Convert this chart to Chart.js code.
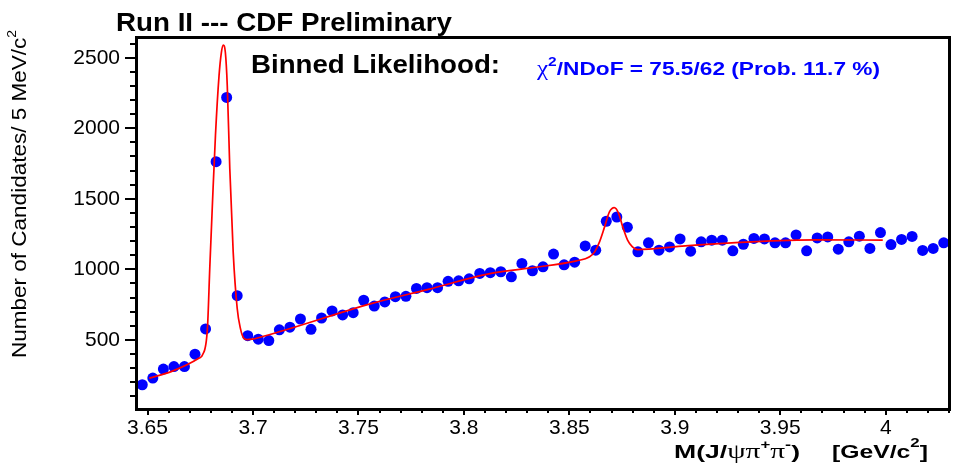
<!DOCTYPE html>
<html>
<head>
<meta charset="utf-8">
<script src="https://cdn.jsdelivr.net/npm/chart.js@4.4.1/dist/chart.umd.min.js"></script>
<style>
  html, body { margin: 0; padding: 0; background: #fff; }
  canvas { display: block; }
</style>
</head>
<body>
<canvas id="chart" width="956" height="470"></canvas>
<script>
// bin centres of the 5 MeV/c^2 bins (GeV/c^2)
const binCenters = [
  3.6475, 3.6525, 3.6575, 3.6625, 3.6675, 3.6725, 3.6775, 3.6825, 3.6875, 3.6925,
  3.6975, 3.7025, 3.7075, 3.7125, 3.7175, 3.7225, 3.7275, 3.7325, 3.7375, 3.7425,
  3.7475, 3.7525, 3.7575, 3.7625, 3.7675, 3.7725, 3.7775, 3.7825, 3.7875, 3.7925,
  3.7975, 3.8025, 3.8075, 3.8125, 3.8175, 3.8225, 3.8275, 3.8325, 3.8375, 3.8425,
  3.8475, 3.8525, 3.8575, 3.8625, 3.8675, 3.8725, 3.8775, 3.8825, 3.8875, 3.8925,
  3.8975, 3.9025, 3.9075, 3.9125, 3.9175, 3.9225, 3.9275, 3.9325, 3.9375, 3.9425,
  3.9475, 3.9525, 3.9575, 3.9625, 3.9675, 3.9725, 3.9775, 3.9825, 3.9875, 3.9925,
  3.9975, 4.0025, 4.0075, 4.0125, 4.0175, 4.0225, 4.0275
];

// candidates per bin
const candidates = [
  182, 229, 293, 311, 311, 399, 578, 1763, 2219, 813,
  530, 505, 495, 571, 590, 648, 575, 655, 705, 677,
  693, 781, 740, 769, 806, 809, 865, 870, 870, 915,
  919, 933, 971, 976, 983, 947, 1042, 990, 1018, 1108,
  1032, 1051, 1166, 1136, 1341, 1371, 1299, 1124, 1188, 1136,
  1159, 1216, 1129, 1195, 1207, 1207, 1131, 1178, 1219, 1216,
  1188, 1188, 1244, 1131, 1223, 1230, 1143, 1195, 1235, 1148,
  1261, 1176, 1212, 1233, 1134, 1148, 1188
];

// fit curve
const fitMass = [
  3.6508, 3.6612, 3.6745, 3.6761, 3.6784, 3.6795, 3.6808, 3.6822, 3.6839, 3.6850,
  3.6859, 3.6869, 3.6878, 3.6890, 3.6906, 3.6925, 3.6940, 3.6956, 3.6972, 3.6997,
  3.7034, 3.7128, 3.7565, 3.7831, 3.8112, 3.8299, 3.8534, 3.8596, 3.8620, 3.8643,
  3.8667, 3.8690, 3.8713, 3.8734, 3.8753, 3.8776, 3.8799, 3.8823, 3.8877, 3.9049,
  3.9362, 3.9674, 3.9986
];
const fitValue = [
  229, 275, 371, 394, 583, 1007, 1477, 1949, 2373, 2537,
  2590, 2537, 2302, 1713, 1124, 724, 583, 512, 502, 505,
  519, 559, 759, 858, 966, 1007, 1060, 1089, 1124, 1195,
  1301, 1407, 1437, 1395, 1301, 1207, 1159, 1140, 1143, 1166,
  1195, 1209, 1207
];

const xRange = [3.645, 4.03];
const yRange = [10, 2640];

const FONT = '"Liberation Sans", Arial, sans-serif';
const SYM = '"Liberation Serif", "DejaVu Serif", serif';

// draw a row of text pieces one after the other
function drawRuns(ctx, x, y, runs) {
  runs.forEach(r => {
    ctx.font = r.font;
    ctx.fillStyle = r.color || '#000';
    ctx.fillText(r.text, x, y + (r.dy || 0));
    x += ctx.measureText(r.text).width;
  });
  return x;
}
function runsWidth(ctx, runs) {
  let w = 0;
  runs.forEach(r => { ctx.font = r.font; w += ctx.measureText(r.text).width; });
  return w;
}
// same, but stretched sideways to the width it has in the original
function drawRunsWide(ctx, x, y, runs, width) {
  const w = runsWidth(ctx, runs);
  ctx.save();
  ctx.translate(x, y);
  ctx.scale(width / w, 1);
  drawRuns(ctx, 0, 0, runs);
  ctx.restore();
}

// frame, tick marks and all the ROOT style texts
const rootStyle = {
  id: 'rootStyle',
  afterDraw(chart) {
    const { ctx, chartArea: a, scales: { x, y } } = chart;
    ctx.save();
    ctx.strokeStyle = '#000';
    ctx.lineWidth = 2;
    ctx.beginPath();
    y.ticks.forEach(t => {
      const py = Math.round(y.getPixelForValue(t.value));
      const len = t.value % 500 === 0 ? 12 : 7;
      ctx.moveTo(a.left - len, py);
      ctx.lineTo(a.left, py);
    });
    x.ticks.forEach(t => {
      const px = Math.round(x.getPixelForValue(t.value));
      const major = Math.abs(t.value * 20 - Math.round(t.value * 20)) < 1e-6;
      ctx.moveTo(px, a.bottom);
      ctx.lineTo(px, a.bottom + (major ? 6 : 4));
    });
    ctx.stroke();

    ctx.lineWidth = 3;
    ctx.strokeRect(a.left - 0.5, a.top - 0.5, a.right - a.left + 1, a.bottom - a.top + 1);

    ctx.textBaseline = 'alphabetic';
    ctx.textAlign = 'left';
    drawRunsWide(ctx, 116, 31, [{ text: 'Run II --- CDF Preliminary', font: 'bold 25px ' + FONT }], 336);
    drawRunsWide(ctx, 251, 73, [{ text: 'Binned Likelihood:', font: 'bold 25px ' + FONT }], 249);
    drawRunsWide(ctx, 537, 75, [
      { text: '\u03c7', font: '21px ' + SYM, color: '#0000ff' },
      { text: '2', font: 'bold 13px ' + FONT, color: '#0000ff', dy: -9 },
      { text: '/NDoF = 75.5/62 (Prob. 11.7 %)', font: 'bold 19px ' + FONT, color: '#0000ff' }
    ], 343);

    // x axis title
    drawRunsWide(ctx, 674, 458, [
      { text: 'M(J/', font: 'bold 19px ' + FONT },
      { text: '\u03c8\u03c0', font: '21px ' + SYM },
      { text: '+', font: 'bold 12px ' + FONT, dy: -9 },
      { text: '\u03c0', font: '21px ' + SYM },
      { text: '-', font: 'bold 13px ' + FONT, dy: -9 },
      { text: ')', font: 'bold 19px ' + FONT }
    ], 126);
    drawRunsWide(ctx, 832, 458, [
      { text: '[GeV/c', font: 'bold 19px ' + FONT },
      { text: '2', font: 'bold 13px ' + FONT, dy: -11 },
      { text: ']', font: 'bold 19px ' + FONT }
    ], 96);

    // y axis title, rotated and ending at the top
    ctx.translate(26, 30);
    ctx.rotate(-Math.PI / 2);
    drawRunsWide(ctx, -328, 0, [
      { text: 'Number of Candidates/ 5 MeV/c', font: '21px ' + FONT },
      { text: '2', font: '13px ' + FONT, dy: -10 }
    ], 328);
    ctx.restore();
  }
};

const ctx = document.getElementById('chart').getContext('2d');
new Chart(ctx, {
  type: 'scatter',
  data: {
    datasets: [
      {
        label: 'Fit',
        data: fitMass.map((m, i) => ({ x: m, y: fitValue[i] })),
        showLine: true,
        borderColor: '#ff0000',
        borderWidth: 1.7,
        pointRadius: 0,
        cubicInterpolationMode: 'monotone',
        fill: false
      },
      {
        label: 'Data',
        data: binCenters.map((m, i) => ({ x: m, y: candidates[i] })),
        backgroundColor: '#0000ff',
        borderWidth: 0,
        pointRadius: 5.5
      }
    ]
  },
  options: {
    responsive: false,
    animation: false,
    devicePixelRatio: 1,
    layout: { padding: { top: 38, right: 2, bottom: 0, left: 0 } },
    plugins: { legend: { display: false }, tooltip: { enabled: false }, title: { display: false } },
    scales: {
      x: {
        type: 'linear',
        min: xRange[0],
        max: xRange[1],
        afterFit: s => { s.height = 61; },
        grid: { display: false, drawTicks: false },
        border: { display: false },
        ticks: {
          stepSize: 0.01,
          includeBounds: false,
          autoSkip: false,
          maxRotation: 0,
          padding: 7,
          color: '#000',
          font: { family: FONT, size: 21 },
          callback: v => Math.abs(v * 20 - Math.round(v * 20)) < 1e-6 ? String(Number(v.toFixed(2))) : ''
        }
      },
      y: {
        type: 'linear',
        min: yRange[0],
        max: yRange[1],
        afterFit: s => { s.width = 137; },
        grid: { display: false, drawTicks: false },
        border: { display: false },
        ticks: {
          stepSize: 100,
          includeBounds: false,
          autoSkip: false,
          padding: 17,
          color: '#000',
          font: { family: FONT, size: 21 },
          callback: v => v % 500 === 0 ? String(v) : ''
        }
      }
    }
  },
  plugins: [rootStyle]
});
</script>
</body>
</html>
